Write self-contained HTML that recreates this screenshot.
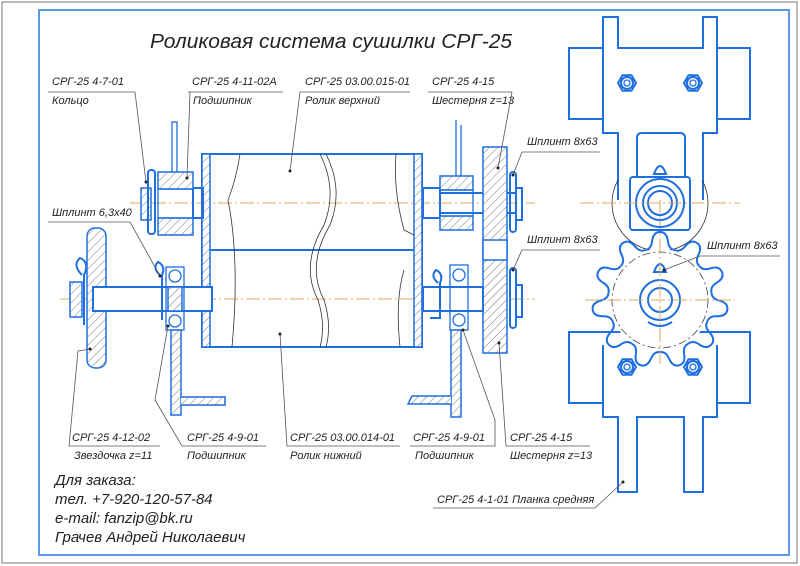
<!DOCTYPE html>
<html><head><meta charset="utf-8"><style>
html,body{margin:0;padding:0;background:#fff}
svg{display:block}
text{font-family:"Liberation Sans Narrow","Liberation Sans","DejaVu Sans",sans-serif;font-style:italic;fill:#222}
.b{fill:none;stroke:#1e6fe0;stroke-width:2}
.bt{fill:none;stroke:#1e6fe0;stroke-width:1.3}
.k{fill:none;stroke:#333;stroke-width:0.8}
.c{fill:none;stroke:#e0a860;stroke-width:1;stroke-dasharray:14 3 2 3}
.h{fill:url(#hatch);stroke:#1e6fe0;stroke-width:1.5}
.l{stroke:#555;stroke-width:0.8;fill:none}
.lb{font-size:11px}
</style></head><body>
<svg width="800" height="566" viewBox="0 0 800 566" xmlns="http://www.w3.org/2000/svg">
<defs>
<pattern id="hatch" width="6" height="6" patternUnits="userSpaceOnUse" patternTransform="rotate(45)">
<rect width="6" height="6" fill="#fff"/><line x1="0" y1="0" x2="0" y2="6" stroke="#555" stroke-width="0.8"/></pattern>
<path id="tooth" d="M-14.6,-49.9 Q-9,-51 -8,-58 Q-7,-68 0,-68 Q7,-68 8,-58 Q9,-51 14.6,-49.9" class="b"/>
<g id="nut"><polygon points="9,0 4.5,7.8 -4.5,7.8 -9,0 -4.5,-7.8 4.5,-7.8" class="b"/><circle r="6" class="b"/><circle r="3" class="bt"/></g>
</defs>
<rect x="2" y="2" width="795" height="561" fill="none" stroke="#777" stroke-width="1"/>
<rect x="39" y="10" width="750" height="545" fill="none" stroke="#5b9be6" stroke-width="2"/>

<text x="150" y="48" font-size="20" textLength="362" lengthAdjust="spacingAndGlyphs">Роликовая система сушилки СРГ-25</text>

<line x1="130" y1="203" x2="535" y2="203" class="c"/>
<line x1="70" y1="299" x2="535" y2="299" class="c"/>
<line x1="60" y1="299" x2="130" y2="299" class="c"/>
<line x1="660" y1="155" x2="660" y2="365" class="c"/>

<rect x="202" y="154" width="220" height="193" class="b"/>
<line x1="202" y1="250" x2="422" y2="250" class="b"/>
<rect x="202" y="154" width="8" height="193" class="h"/>
<rect x="414" y="154" width="8" height="193" class="h"/>
<path d="M240,154 Q236,180 228,200 Q240,260 232,347" class="k"/>
<path d="M396,154 Q393,190 404,230 L414,235" class="k"/>
<path d="M404,270 Q395,300 400,347" class="k"/>
<path d="M320,154 Q338,190 324,225 Q300,265 318,300 Q326,325 320,347" class="k"/>
<path d="M326,154 Q344,190 330,225 Q306,265 324,300 Q332,325 326,347" class="k"/>

<rect x="172" y="122" width="5" height="52" class="bt"/>
<rect x="193" y="188" width="10" height="30" class="b"/>
<rect x="158" y="172" width="35" height="17" class="h"/>
<rect x="158" y="218" width="35" height="17" class="h"/>
<rect x="158" y="189" width="35" height="29" class="bt"/>
<rect x="141" y="188" width="10" height="32" class="h"/>
<rect x="148" y="170" width="7" height="64" rx="3" class="b"/>
<rect x="423" y="188" width="17" height="30" class="b"/>
<rect x="440" y="176" width="33" height="14" class="h"/>
<rect x="440" y="216" width="33" height="14" class="h"/>
<rect x="440" y="190" width="33" height="26" class="bt"/>
<line x1="456" y1="120" x2="456" y2="176" class="bt"/><line x1="461" y1="125" x2="461" y2="176" class="bt"/>
<line x1="440" y1="193" x2="515" y2="193" class="b"/><line x1="440" y1="213" x2="515" y2="213" class="b"/>
<rect x="483" y="147" width="24" height="206" class="h"/>
<rect x="483" y="240" width="24" height="20" fill="#fff" stroke="#1e6fe0" stroke-width="1.5"/>
<rect x="510" y="172" width="6" height="60" rx="3" class="b"/>
<rect x="516" y="188" width="6" height="32" class="b"/>
<rect x="510" y="268" width="6" height="60" rx="3" class="b"/>
<rect x="516" y="285" width="6" height="32" class="b"/>

<rect x="87" y="228" width="19" height="140" rx="8" class="h"/>
<rect x="93" y="287" width="119" height="24" fill="#fff" stroke="#1e6fe0" stroke-width="2"/>
<rect x="70" y="282" width="12" height="35" class="h"/>
<path d="M82,275 Q72,265 80,258 Q90,262 84,275 L84,325" class="b"/>
<rect x="166" y="267" width="18" height="63" class="bt"/>
<circle cx="175" cy="276" r="6" class="bt"/><circle cx="175" cy="321" r="6" class="bt"/>
<rect x="168" y="287" width="14" height="24" class="h"/>
<path d="M160,275 Q152,268 158,262 Q166,266 162,275 L162,320" class="b"/>
<rect x="171" y="330" width="10" height="85" class="h"/>
<path d="M181,397 L225,397 L225,405 L181,405" class="h"/>
<rect x="423" y="287" width="60" height="24" fill="#fff" stroke="#1e6fe0" stroke-width="2"/>
<rect x="450" y="265" width="18" height="65" class="bt"/>
<circle cx="459" cy="275" r="6" class="bt"/><circle cx="459" cy="320" r="6" class="bt"/>
<path d="M438,283 Q430,276 436,270 Q444,274 440,283 L440,318 L430,318" class="b"/>
<rect x="451" y="330" width="10" height="87" class="h"/>
<path d="M451,396 L412,396 L408,404 L451,404" class="h"/>

<rect x="569" y="48" width="181" height="71" class="b"/>
<polygon points="603,17 618,17 618,48 703,48 703,17 717,17 717,133 703,133 703,200 618,200 618,133 603,133" fill="#fff"/>
<path d="M618,200 L618,133 L603,133 L603,17 L618,17 L618,48 L703,48 L703,17 L717,17 L717,133 L703,133 L703,200" class="b"/>
<path d="M637,177 L637,138 Q637,133 642,133 L680,133 Q685,133 685,138 L685,177" class="b"/>
<use href="#nut" x="627" y="83"/><use href="#nut" x="693" y="83"/>
<path d="M618,180 A48,48 0 1 0 702,180" class="k" stroke-width="1.2"/>
<rect x="630" y="177" width="60" height="53" rx="3" class="b" fill="#fff"/>
<circle cx="660" cy="203" r="24" class="b"/><circle cx="660" cy="203" r="17" class="b"/><circle cx="660" cy="203" r="12" class="b"/>
<path d="M654,174 Q660,158 666,174 Z" class="b" fill="#fff"/>
<line x1="580" y1="203" x2="740" y2="203" class="c"/>
<rect x="569" y="332" width="181" height="71" class="b"/>
<path d="M603,345 L603,417 L618,417 L618,492 L637,492 L637,417 L684,417 L684,492 L703,492 L703,417 L717,417 L717,345" class="b" fill="#fff"/>
<rect x="604" y="340" width="112" height="76" fill="#fff"/>
<g transform="translate(660,300)">
<circle r="51" fill="#fff"/>
<use href="#tooth"/>
<use href="#tooth" transform="rotate(32.727)"/><use href="#tooth" transform="rotate(65.454)"/>
<use href="#tooth" transform="rotate(98.18)"/><use href="#tooth" transform="rotate(130.9)"/>
<use href="#tooth" transform="rotate(163.6)"/><use href="#tooth" transform="rotate(196.4)"/>
<use href="#tooth" transform="rotate(229.1)"/><use href="#tooth" transform="rotate(261.8)"/>
<use href="#tooth" transform="rotate(294.5)"/><use href="#tooth" transform="rotate(327.3)"/>
<circle r="48" fill="none" stroke="#444" stroke-width="0.8" stroke-dasharray="8 3 2 3"/>
<circle r="20" class="b"/><circle r="12" class="b"/>
<path d="M-6,-28 Q0,-44 6,-28 Z" class="b"/>
<path d="M-12,22 Q0,30 12,22" class="b"/>
</g>
<line x1="585" y1="300" x2="735" y2="300" class="c"/>
<line x1="660" y1="240" x2="660" y2="365" class="c"/>
<use href="#nut" x="627" y="367"/><use href="#nut" x="693" y="367"/>

<g class="lb">
<text x="52" y="85">СРГ-25 4-7-01</text><line x1="48" y1="92" x2="135" y2="92" class="l"/><text x="52" y="104">Кольцо</text>
<polyline points="135,92 146,182" class="l"/>
<text x="192" y="85">СРГ-25 4-11-02А</text><line x1="188" y1="92" x2="283" y2="92" class="l"/><text x="193" y="104">Подшипник</text>
<polyline points="190,92 187,178" class="l"/>
<text x="305" y="85">СРГ-25 03.00.015-01</text><line x1="300" y1="92" x2="410" y2="92" class="l"/><text x="305" y="104">Ролик верхний</text>
<polyline points="300,92 290,171" class="l"/>
<text x="432" y="85">СРГ-25 4-15</text><line x1="428" y1="92" x2="512" y2="92" class="l"/><text x="432" y="104">Шестерня z=13</text>
<polyline points="512,92 498,168" class="l"/>
<text x="527" y="145">Шплинт 8x63</text><polyline points="600,152 522,152 513,175" class="l"/>
<text x="527" y="243">Шплинт 8x63</text><polyline points="600,250 522,250 513,270" class="l"/>
<text x="707" y="249">Шплинт 8x63</text><polyline points="780,256 700,256 664,270" class="l"/>
<text x="52" y="216">Шплинт 6,3x40</text><polyline points="48,222 130,222 160,276" class="l"/>
<text x="72" y="441">СРГ-25 4-12-02</text><polyline points="160,446 69,446 78,351 90,349" class="l"/><text x="74" y="459">Звездочка z=11</text>
<text x="187" y="441">СРГ-25 4-9-01</text><polyline points="266,446 182,446 155,400 168,326" class="l"/><text x="187" y="459">Подшипник</text>
<text x="290" y="441">СРГ-25 03.00.014-01</text><polyline points="400,446 287,446 280,334" class="l"/><text x="290" y="459">Ролик нижний</text>
<text x="413" y="441">СРГ-25 4-9-01</text><polyline points="410,446 495,446 495,420 463,330" class="l"/><text x="415" y="459">Подшипник</text>
<text x="510" y="441">СРГ-25 4-15</text><polyline points="590,446 506,446 499,343" class="l"/><text x="510" y="459">Шестерня z=13</text>
<text x="437" y="503">СРГ-25 4-1-01 Планка средняя</text><polyline points="433,508 595,508 623,482" class="l"/>
</g>
<g fill="#222"><circle cx="146" cy="182" r="1.5"/><circle cx="187" cy="178" r="1.5"/><circle cx="290" cy="171" r="1.5"/><circle cx="498" cy="168" r="1.5"/><circle cx="513" cy="175" r="1.5"/><circle cx="513" cy="270" r="1.5"/><circle cx="664" cy="270" r="1.5"/><circle cx="160" cy="276" r="1.5"/><circle cx="90" cy="349" r="1.5"/><circle cx="168" cy="326" r="1.5"/><circle cx="280" cy="334" r="1.5"/><circle cx="463" cy="330" r="1.5"/><circle cx="499" cy="343" r="1.5"/><circle cx="623" cy="482" r="1.5"/></g>

<g font-size="15">
<text x="55" y="485">Для заказа:</text>
<text x="55" y="504">тел. +7-920-120-57-84</text>
<text x="55" y="523">e-mail: fanzip@bk.ru</text>
<text x="55" y="542">Грачев Андрей Николаевич</text>
</g>
</svg>
</body></html>
